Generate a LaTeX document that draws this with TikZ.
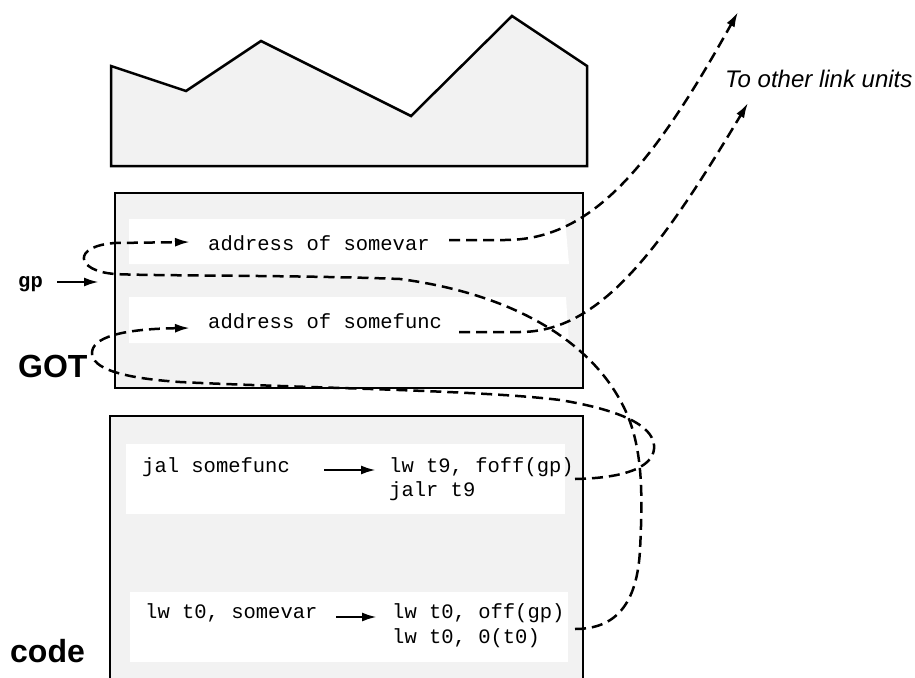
\documentclass[tikz,border=0pt]{standalone}
\usepackage{fontspec}
\setmainfont{Liberation Sans}
\setsansfont{Liberation Sans}
\setmonofont{Liberation Mono}
\usetikzlibrary{arrows.meta}
\definecolor{boxgray}{HTML}{F2F2F2}
\tikzset{
  box/.style={draw=black, line width=2.5pt, fill=boxgray, inner sep=0pt, outer sep=0pt},
  rowfill/.style={fill=white, draw=none},
  mono/.style={font=\fontsize{20.5}{25}\selectfont\ttfamily, anchor=base west, inner sep=0pt},
  monobold/.style={font=\fontsize{20.5}{25}\selectfont\ttfamily\bfseries, anchor=base west, inner sep=0pt},
  biglabel/.style={font=\fontsize{32}{38}\selectfont\sffamily\bfseries, anchor=base west, inner sep=0pt},
  italabel/.style={font=\fontsize{24}{28}\selectfont\sffamily\itshape, anchor=base west, inner sep=0pt},
  link/.style={line width=2.5pt, dash pattern=on 11pt off 6pt},
  tipped/.style={-{Latex[length=15pt,width=9pt]}},
  solidarrow/.style={line width=2.5pt, -{Latex[length=15pt,width=9pt]}},
}
\begin{document}
\begin{tikzpicture}[x=1pt, y=-1pt]
\useasboundingbox (0,0) rectangle (915,677);

% top memory region (other data)
\draw[line width=2.5pt, fill=boxgray, line join=miter]
  (111,66) -- (186,91) -- (261,41) -- (411,116) -- (512,16) -- (587,66) -- (587,166) -- (111,166) -- cycle;

% GOT box
\node[box, anchor=north west, minimum width=468pt, minimum height=195pt] (got) at (115,193) {};
\fill[rowfill] (129,219) -- (565,219) -- (569,264) -- (129,264) -- cycle;
\fill[rowfill] (129,297) -- (566,297) -- (569,343) -- (129,343) -- cycle;

% code box
\node[box, anchor=north west, minimum width=473pt, minimum height=290pt] (code) at (110,416) {};
\fill[rowfill] (126,444) rectangle (565,514);
\fill[rowfill] (130,592) rectangle (568,662);

% texts
\node[mono] (addrvar) at (208,250) {address of somevar};
\node[mono] (addrfunc) at (208,328) {address of somefunc};
\node[mono] (jal) at (142,472) {jal somefunc};
\node[mono] (lwnine) at (389,472) {lw t9, foff(gp)};
\node[mono] (jalr) at (389,496) {jalr t9};
\node[mono] (lwvar) at (145,618) {lw t0, somevar};
\node[mono] (lwoff) at (392,618) {lw t0, off(gp)};
\node[mono] (lwzero) at (392,643) {lw t0, 0(t0)};
\node[monobold] (gp) at (18,287) {gp};
\node[biglabel] (gotlabel) at (18,377) {GOT};
\node[biglabel] (codelabel) at (10,662) {code};
\node[italabel] (other) at (725,88) {To other link units};

% coordinates
\coordinate (gpS) at (57,282);
\coordinate (gpE) at (99,282);
\coordinate (jalS) at (324,470);
\coordinate (jalE) at (376,470);
\coordinate (varS) at (336,617);
\coordinate (varE) at (377,617);
\coordinate (varTip) at (190,242);
\coordinate (funcTip) at (190,328);
\coordinate (funcSrc) at (575,479);
\coordinate (varSrc) at (575,629);
\coordinate (outA) at (449,240);
\coordinate (outAtip) at (738,12);
\coordinate (outB) at (459,332);
\coordinate (outBtip) at (748,103);

% solid arrows
\draw[solidarrow] (gpS) -- (gpE);
\draw[solidarrow] (jalS) -- (jalE);
\draw[solidarrow] (varS) -- (varE);

% somefunc link: code -> GOT entry
\draw[link, tipped] (funcSrc) .. controls (630,478) and (656,465) .. (654,445)
  .. controls (652,425) and (620,410) .. (560,400)
  .. controls (480,390) and (300,388) .. (180,382)
  .. controls (120,378) and (92,368) .. (92,353)
  .. controls (92,338) and (120,329) .. (funcTip);

% somevar link: code -> GOT entry
\draw[link, tipped] (varSrc) .. controls (615,629) and (637,605) .. (640,550)
  .. controls (643,490) and (643,440) .. (620,400)
  .. controls (590,345) and (520,295) .. (400,279)
  .. controls (300,275) and (150,276) .. (115,274)
  .. controls (75,271) and (72,246) .. (115,243)
  -- (varTip);

% outgoing links to other link units
\draw[link, tipped] (outA) -- (505,240) .. controls (590,240) and (650,170) .. (outAtip);
\draw[link, tipped] (outB) -- (520,332) .. controls (600,332) and (660,250) .. (outBtip);
\end{tikzpicture}
\end{document}
